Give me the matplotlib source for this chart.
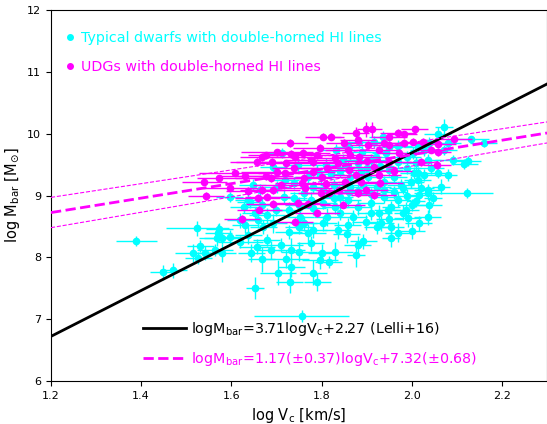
import matplotlib
matplotlib.use('Agg')
import matplotlib.pyplot as plt
from matplotlib.lines import Line2D
import numpy as np

# typical dwarfs: (logVc, logMbar, err_x, err_y)
dwarfs = [
    (1.389, 8.26, 0.045, 0.08), (1.524, 8.47, 0.07, 0.12), (1.449, 7.76, 0.03, 0.12),
    (1.471, 7.79, 0.03, 0.12), (1.516, 8.07, 0.04, 0.15), (1.531, 8.18, 0.03, 0.10),
    (1.527, 7.99, 0.03, 0.10), (1.542, 8.07, 0.03, 0.12), (1.564, 8.12, 0.04, 0.10),
    (1.571, 8.39, 0.03, 0.15), (1.569, 8.31, 0.04, 0.12), (1.580, 8.31, 0.04, 0.10),
    (1.596, 8.33, 0.03, 0.12), (1.573, 8.46, 0.03, 0.10), (1.580, 8.07, 0.03, 0.15),
    (1.620, 8.25, 0.05, 0.10), (1.638, 8.36, 0.03, 0.15), (1.656, 8.17, 0.04, 0.12),
    (1.644, 8.07, 0.03, 0.15), (1.667, 7.97, 0.03, 0.20), (1.653, 7.50, 0.02, 0.18),
    (1.678, 8.28, 0.03, 0.10), (1.709, 8.20, 0.05, 0.12), (1.687, 8.12, 0.03, 0.15),
    (1.733, 8.12, 0.03, 0.20), (1.749, 8.09, 0.04, 0.15), (1.722, 7.97, 0.05, 0.15),
    (1.704, 7.75, 0.04, 0.20), (1.733, 7.84, 0.03, 0.15), (1.729, 7.60, 0.03, 0.18),
    (1.782, 7.75, 0.03, 0.20), (1.796, 7.96, 0.04, 0.15), (1.791, 7.60, 0.03, 0.15),
    (1.816, 7.92, 0.03, 0.10), (1.829, 8.09, 0.04, 0.15), (1.800, 8.07, 0.03, 0.15),
    (1.876, 8.04, 0.02, 0.20), (1.880, 8.20, 0.03, 0.15), (1.893, 8.26, 0.03, 0.12),
    (1.856, 8.38, 0.03, 0.15), (1.756, 7.05, 0.105, 0.10), (1.776, 8.23, 0.03, 0.12),
    (1.769, 8.39, 0.04, 0.15), (1.836, 8.44, 0.03, 0.15), (1.953, 8.31, 0.02, 0.15),
    (1.924, 8.49, 0.03, 0.12), (2.071, 10.11, 0.02, 0.12), (2.058, 10.00, 0.03, 0.10),
    (2.131, 9.91, 0.04, 0.06), (2.160, 9.85, 0.03, 0.06), (2.091, 9.57, 0.04, 0.08),
    (2.080, 9.33, 0.02, 0.10), (2.122, 9.04, 0.058, 0.08), (2.064, 9.14, 0.02, 0.12),
    (2.036, 9.04, 0.03, 0.12), (2.047, 8.96, 0.02, 0.10), (2.009, 8.91, 0.02, 0.10),
    (2.038, 8.84, 0.03, 0.12), (1.991, 8.64, 0.03, 0.15), (1.980, 8.72, 0.02, 0.12),
    (1.953, 8.49, 0.03, 0.15), (1.927, 8.72, 0.03, 0.12), (1.953, 8.81, 0.02, 0.10),
    (1.938, 9.09, 0.03, 0.10), (1.976, 9.17, 0.03, 0.10), (1.998, 9.22, 0.03, 0.10),
    (2.013, 9.36, 0.02, 0.10), (2.058, 9.36, 0.03, 0.08), (1.596, 8.98, 0.03, 0.08),
    (1.647, 9.17, 0.03, 0.10), (1.638, 8.93, 0.03, 0.10), (1.627, 8.81, 0.03, 0.10),
    (1.653, 8.72, 0.03, 0.10), (1.669, 8.85, 0.03, 0.12), (1.642, 8.90, 0.03, 0.10),
    (1.664, 9.09, 0.03, 0.10), (1.620, 8.60, 0.03, 0.12), (1.631, 8.52, 0.03, 0.12),
    (1.660, 8.60, 0.03, 0.12), (1.680, 8.68, 0.04, 0.12), (1.693, 8.55, 0.03, 0.15),
    (1.713, 9.69, 0.03, 0.08), (1.747, 9.49, 0.03, 0.10), (1.798, 9.30, 0.03, 0.10),
    (1.831, 9.74, 0.04, 0.10), (1.882, 9.87, 0.03, 0.10), (1.936, 9.95, 0.03, 0.10),
    (1.916, 9.87, 0.03, 0.10), (1.969, 9.54, 0.03, 0.10), (1.942, 9.69, 0.03, 0.10),
    (1.909, 9.57, 0.04, 0.10), (1.880, 9.52, 0.03, 0.10), (1.858, 9.46, 0.03, 0.10),
    (1.887, 9.38, 0.03, 0.10), (1.902, 9.30, 0.03, 0.10), (1.938, 9.22, 0.03, 0.10),
    (1.960, 9.30, 0.03, 0.10), (1.980, 9.12, 0.03, 0.10), (1.924, 9.14, 0.03, 0.10),
    (1.893, 9.17, 0.03, 0.10), (1.864, 9.14, 0.03, 0.10), (1.827, 9.17, 0.03, 0.10),
    (1.804, 9.09, 0.03, 0.12), (1.782, 9.14, 0.03, 0.10), (1.760, 9.04, 0.03, 0.12),
    (1.738, 8.96, 0.03, 0.10), (1.716, 8.98, 0.03, 0.12), (1.702, 9.14, 0.03, 0.10),
    (1.776, 8.93, 0.03, 0.12), (1.804, 8.88, 0.03, 0.10), (1.827, 8.96, 0.03, 0.10),
    (1.858, 8.93, 0.03, 0.12), (1.880, 8.81, 0.03, 0.12), (1.909, 8.88, 0.03, 0.10),
    (1.938, 8.98, 0.03, 0.10), (1.969, 8.93, 0.03, 0.12), (1.987, 8.77, 0.03, 0.12),
    (1.947, 8.77, 0.03, 0.10), (1.909, 8.72, 0.03, 0.12), (1.842, 8.72, 0.03, 0.12),
    (1.813, 8.65, 0.03, 0.15), (1.753, 8.65, 0.03, 0.12), (1.727, 8.77, 0.03, 0.12),
    (1.698, 8.77, 0.03, 0.10), (1.864, 9.30, 0.03, 0.10), (1.847, 9.57, 0.03, 0.10),
    (1.693, 9.46, 0.03, 0.10), (2.013, 9.78, 0.03, 0.10), (2.027, 9.74, 0.03, 0.10),
    (2.038, 9.85, 0.03, 0.10), (2.071, 9.74, 0.03, 0.08), (2.080, 9.85, 0.03, 0.08),
    (2.002, 9.69, 0.03, 0.10), (2.009, 9.52, 0.03, 0.10), (2.036, 9.57, 0.03, 0.10),
    (2.042, 9.44, 0.03, 0.10), (2.027, 9.33, 0.03, 0.10), (2.013, 9.25, 0.03, 0.10),
    (2.004, 9.36, 0.03, 0.10), (2.020, 9.12, 0.03, 0.12), (2.036, 9.09, 0.03, 0.10),
    (2.016, 9.01, 0.03, 0.12), (1.671, 8.49, 0.03, 0.12), (1.760, 8.55, 0.03, 0.12),
    (1.782, 8.44, 0.03, 0.12), (1.804, 8.55, 0.03, 0.12), (1.858, 8.52, 0.03, 0.12),
    (1.898, 8.57, 0.03, 0.12), (1.931, 8.55, 0.03, 0.12), (1.727, 8.41, 0.03, 0.12),
    (1.749, 8.49, 0.03, 0.12), (2.116, 9.51, 0.03, 0.08), (2.124, 9.56, 0.03, 0.08),
    (1.950, 9.78, 0.03, 0.10), (1.990, 9.62, 0.03, 0.10), (1.970, 9.80, 0.03, 0.10),
    (1.920, 9.62, 0.03, 0.10), (1.890, 9.70, 0.03, 0.10), (1.860, 9.78, 0.03, 0.10),
    (1.840, 9.40, 0.03, 0.10), (1.820, 9.35, 0.03, 0.10), (1.810, 9.50, 0.03, 0.10),
    (1.990, 9.45, 0.03, 0.10), (1.950, 9.42, 0.03, 0.10), (1.930, 9.48, 0.03, 0.10),
    (1.900, 9.45, 0.03, 0.10), (1.860, 9.05, 0.03, 0.10), (1.840, 8.98, 0.03, 0.10),
    (1.960, 9.05, 0.03, 0.10), (1.990, 9.00, 0.03, 0.10), (1.910, 9.02, 0.03, 0.10),
    (1.880, 9.08, 0.03, 0.10), (1.780, 8.80, 0.03, 0.12), (1.750, 8.85, 0.03, 0.12),
    (1.830, 8.82, 0.03, 0.12), (1.870, 8.65, 0.03, 0.12), (1.950, 8.62, 0.03, 0.12),
    (1.970, 8.40, 0.03, 0.15), (2.000, 8.85, 0.03, 0.10), (1.790, 9.40, 0.03, 0.10),
    (1.770, 9.30, 0.03, 0.10), (1.740, 9.20, 0.03, 0.10), (1.720, 9.25, 0.03, 0.10),
    (2.016, 8.55, 0.03, 0.12), (2.036, 8.65, 0.03, 0.12), (2.000, 8.42, 0.03, 0.12),
]

# UDGs: (logVc, logMbar, err_x, err_y)
udgs = [
    (1.656, 9.54, 0.06, 0.06), (1.669, 9.62, 0.05, 0.06), (1.676, 9.65, 0.04, 0.06),
    (1.609, 9.36, 0.08, 0.05), (1.573, 9.28, 0.05, 0.05), (1.540, 9.22, 0.05, 0.05),
    (1.631, 9.31, 0.06, 0.05), (1.598, 9.12, 0.06, 0.05), (1.544, 8.99, 0.04, 0.06),
    (1.676, 9.31, 0.06, 0.06), (1.638, 9.07, 0.05, 0.06), (1.669, 9.09, 0.05, 0.06),
    (1.658, 8.96, 0.05, 0.06), (1.680, 8.98, 0.05, 0.06), (1.662, 8.77, 0.05, 0.06),
    (1.876, 10.01, 0.03, 0.10), (1.898, 10.07, 0.02, 0.12), (1.913, 10.07, 0.02, 0.12),
    (1.969, 10.01, 0.04, 0.06), (1.982, 9.99, 0.03, 0.06), (1.804, 9.95, 0.04, 0.06),
    (1.820, 9.95, 0.03, 0.06), (1.729, 9.85, 0.04, 0.06), (1.702, 9.70, 0.08, 0.06),
    (1.733, 9.67, 0.06, 0.06), (1.758, 9.69, 0.06, 0.06), (1.742, 9.62, 0.06, 0.06),
    (1.796, 9.77, 0.06, 0.06), (1.776, 9.57, 0.06, 0.06), (1.782, 9.54, 0.05, 0.06),
    (1.691, 9.54, 0.08, 0.06), (1.722, 9.52, 0.06, 0.06), (1.702, 9.38, 0.08, 0.06),
    (1.720, 9.36, 0.06, 0.06), (1.687, 9.28, 0.08, 0.06), (1.760, 9.28, 0.06, 0.06),
    (1.756, 9.20, 0.06, 0.06), (1.709, 9.17, 0.06, 0.06), (1.693, 9.09, 0.06, 0.06),
    (1.764, 9.12, 0.06, 0.06), (1.802, 9.30, 0.06, 0.06), (1.813, 9.44, 0.06, 0.06),
    (1.836, 9.52, 0.06, 0.06), (1.858, 9.74, 0.05, 0.06), (1.864, 9.65, 0.05, 0.06),
    (1.882, 9.62, 0.05, 0.06), (1.927, 9.74, 0.05, 0.06), (1.949, 9.54, 0.05, 0.06),
    (1.916, 9.46, 0.05, 0.06), (1.927, 9.33, 0.05, 0.06), (1.876, 9.33, 0.05, 0.06),
    (1.853, 9.22, 0.05, 0.06), (1.887, 9.22, 0.05, 0.06), (1.838, 9.09, 0.05, 0.06),
    (1.816, 9.04, 0.05, 0.06), (1.798, 9.04, 0.05, 0.06), (1.880, 9.04, 0.05, 0.06),
    (1.898, 9.09, 0.05, 0.06), (1.693, 8.86, 0.06, 0.06), (1.747, 8.88, 0.05, 0.06),
    (1.769, 8.86, 0.05, 0.06), (1.847, 8.85, 0.05, 0.06), (1.791, 8.72, 0.05, 0.06),
    (1.916, 9.01, 0.05, 0.06), (1.982, 9.85, 0.04, 0.06), (1.971, 9.69, 0.04, 0.06),
    (1.938, 9.85, 0.04, 0.06), (1.949, 9.82, 0.04, 0.06), (1.902, 9.82, 0.04, 0.06),
    (2.007, 10.07, 0.03, 0.06), (2.002, 9.87, 0.03, 0.06), (2.024, 9.87, 0.03, 0.06),
    (2.058, 9.83, 0.04, 0.06), (2.093, 9.91, 0.04, 0.06), (2.042, 9.74, 0.03, 0.06),
    (2.058, 9.70, 0.03, 0.06), (2.020, 9.54, 0.03, 0.06), (2.056, 9.49, 0.03, 0.06),
    (1.624, 8.62, 0.04, 0.06), (1.742, 8.57, 0.04, 0.06), (1.850, 9.85, 0.04, 0.06),
    (1.880, 9.90, 0.04, 0.06), (1.950, 9.95, 0.04, 0.06), (1.790, 9.65, 0.05, 0.06),
    (1.810, 9.18, 0.05, 0.06), (1.930, 9.20, 0.05, 0.06), (1.960, 9.40, 0.04, 0.06),
    (1.900, 9.55, 0.05, 0.06), (1.740, 9.45, 0.05, 0.06), (1.830, 9.60, 0.05, 0.06),
    (1.860, 9.42, 0.05, 0.06), (1.780, 9.38, 0.05, 0.06),
]

# relations: (slope, intercept)
lelli = (3.71, 2.27)
udg_fit = (1.17, 7.32)
udg_upper = (1.109, 7.639)
udg_lower = (1.245, 6.986)

d = np.array(dwarfs)
u = np.array(udgs)

fig = plt.figure(figsize=(5.47, 4.24), dpi=100)
ax = fig.add_axes([51/547, 43/424, 496/547, 371/424])

ax.errorbar(d[:, 0], d[:, 1], xerr=d[:, 2], yerr=d[:, 3], fmt='o', color='cyan',
            ms=4.5, elinewidth=1, capsize=0, zorder=2)
ax.errorbar(u[:, 0], u[:, 1], xerr=u[:, 2], yerr=u[:, 3], fmt='o', color='magenta',
            ms=4.5, elinewidth=1, capsize=0, zorder=3)

xx = np.array([1.2, 2.3])
ax.plot(xx, lelli[0]*xx + lelli[1], color='black', lw=2, zorder=5)
ax.plot(xx, udg_fit[0]*xx + udg_fit[1], color='magenta', ls='--', lw=2, zorder=5)
ax.plot(xx, udg_upper[0]*xx + udg_upper[1], color='magenta', ls='--', lw=0.8, zorder=5)
ax.plot(xx, udg_lower[0]*xx + udg_lower[1], color='magenta', ls='--', lw=0.8, zorder=5)

ax.set_xlim(1.2, 2.3)
ax.set_ylim(6, 12)
ax.set_xticks([1.2, 1.4, 1.6, 1.8, 2.0, 2.2])
ax.tick_params(labelsize=8)
ax.set_xlabel(r'log V$_{\rm c}$ [km/s]', fontsize=10.5)
ax.set_ylabel(r'log M$_{\rm bar}$ [M$_{\odot}$]', fontsize=10.5)

h1 = [Line2D([], [], ls='', marker='o', color='cyan', ms=4),
      Line2D([], [], ls='', marker='o', color='magenta', ms=4)]
leg1 = ax.legend(h1, ['Typical dwarfs with double-horned HI lines',
                      'UDGs with double-horned HI lines'],
                 loc='upper left', bbox_to_anchor=(0.0, 1 - 8/371), frameon=False,
                 fontsize=10.3, handlelength=0.8, handletextpad=0.4,
                 labelspacing=1.07, labelcolor=['cyan', 'magenta'])
ax.add_artist(leg1)

h2 = [Line2D([], [], color='black', lw=2),
      Line2D([], [], color='magenta', ls='--', lw=2)]
ax.legend(h2, [r'logM$_{\rm bar}$=3.71logV$_{\rm c}$+2.27 (Lelli+16)',
               r'logM$_{\rm bar}$=1.17($\pm$0.37)logV$_{\rm c}$+7.32($\pm$0.68)'],
          loc='lower left', bbox_to_anchor=(0.16, 0.0), frameon=False, fontsize=10.3,
          handlelength=3.0, handletextpad=0.35, labelspacing=0.87,
          labelcolor=['black', 'magenta'])

fig.savefig('out.png', dpi=100)
